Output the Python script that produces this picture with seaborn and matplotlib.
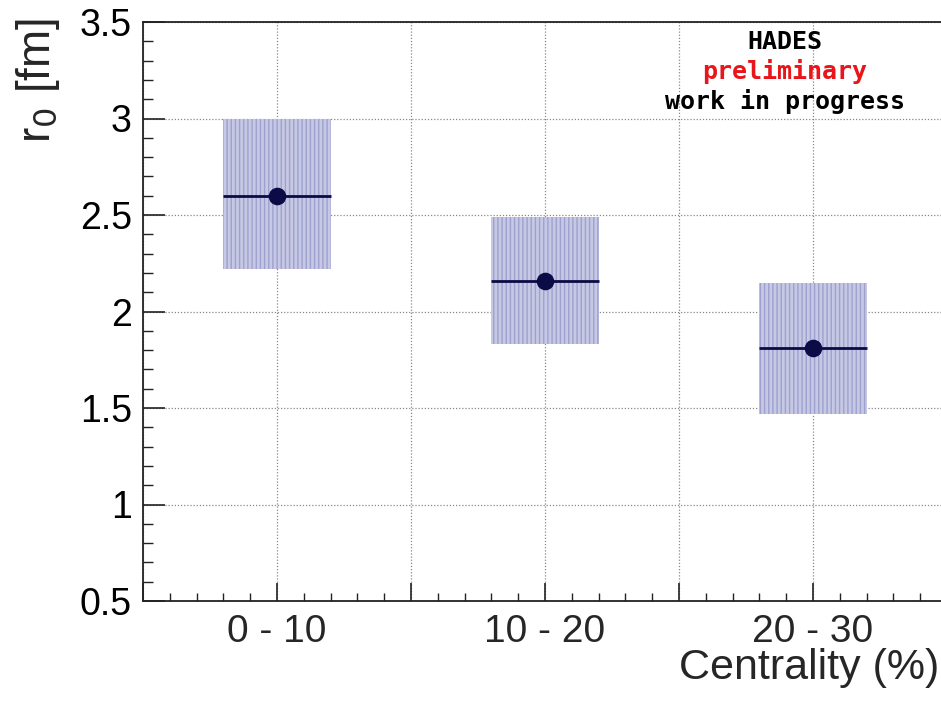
import matplotlib
matplotlib.use("Agg")
import matplotlib.pyplot as plt
import matplotlib.transforms as mtransforms
from matplotlib.patches import Rectangle
from matplotlib.ticker import MultipleLocator
import seaborn as sns
import pandas as pd

categories = ["0 - 10", "10 - 20", "20 - 30"]
centers = [5, 15, 25]
r0 = [2.60, 2.16, 1.81]
sys_low = [2.22, 1.83, 1.47]
sys_high = [3.00, 2.49, 2.15]
x_err = [2, 2, 2]

sns.set_theme(style="ticks")
plt.rcParams['font.family'] = ['Liberation Sans', 'DejaVu Sans']
plt.rcParams['hatch.linewidth'] = 1.0

fig = plt.figure(figsize=(9.41, 7.01), dpi=100)
ax = fig.add_axes([143/941, 100/701, (947-143)/941, (679-100)/701])

navy = "#0b0b45"
# systematic boxes
for c, lo, hi, xe in zip(centers, sys_low, sys_high, x_err):
    ax.add_patch(Rectangle((c - xe, lo), 2 * xe, hi - lo, facecolor="#c6c8e4",
                           edgecolor="#9ea1cf", hatch="||||", linewidth=0, zorder=2))

ax.errorbar(centers, r0, xerr=x_err, fmt="none", ecolor=navy, elinewidth=2,
            capsize=0, zorder=3)
df = pd.DataFrame({"x": centers, "r0": r0, "cat": categories})
sns.scatterplot(data=df, x="x", y="r0", ax=ax, color=navy, s=160,
                edgecolor=navy, linewidth=0, zorder=4, legend=False)

ax.set_xlim(0, 30)
ax.set_ylim(0.5, 3.5)
ax.xaxis.set_major_locator(MultipleLocator(5))
ax.xaxis.set_minor_locator(MultipleLocator(1))
ax.set_yticks([0.5, 1, 1.5, 2, 2.5, 3, 3.5])
ax.set_yticklabels(["0.5", "1", "1.5", "2", "2.5", "3", "3.5"])
ax.yaxis.set_minor_locator(MultipleLocator(0.1))
ax.tick_params(axis="y", which="major", direction="in", length=16, width=1.2,
               labelsize=27, pad=8, color="#222222", labelcolor="black",
               left=True, right=False)
ax.tick_params(axis="y", which="minor", direction="in", length=7, width=1.0,
               color="#222222", left=True, right=False)
ax.tick_params(axis="x", which="major", direction="in", length=13, width=1.2,
               color="#222222", labelbottom=False, bottom=True, top=False)
ax.tick_params(axis="x", which="minor", direction="in", length=6, width=1.0,
               color="#222222", bottom=True, top=False)

lab_tr = mtransforms.blended_transform_factory(ax.transData, fig.transFigure)
for c, lab in zip(centers, categories):
    ax.text(c, 1 - 642/701, lab, transform=lab_tr,
            ha="center", va="baseline", fontsize=28)

ax.grid(True, which="major", linestyle=(0, (1, 1.5)), color="#888888", linewidth=0.9)
ax.set_axisbelow(True)
for s in ["left", "bottom", "top"]:
    ax.spines[s].set_visible(True)
    ax.spines[s].set_color("#222222")
    ax.spines[s].set_linewidth(1.3)
ax.spines["right"].set_visible(False)

ax.set_xlabel("")
ax.set_ylabel("")
fig.text(939/941, 1 - 679/701, "Centrality (%)", ha="right", va="baseline", fontsize=31)
fig.text(38/941, 1 - 18/701, r"r$_0$ [fm]", ha="center", va="top", rotation=90,
         fontsize=33)

mono = ['DejaVu Sans Mono']
fig.text(785/941, 1 - 42/701, "HADES", ha="center", va="center", fontsize=18,
         fontweight="bold", family=mono, color="black")
fig.text(785/941, 1 - 71/701, "preliminary", ha="center", va="center", fontsize=18,
         fontweight="bold", family=mono, color="#e8151b")
fig.text(785/941, 1 - 101/701, "work in progress", ha="center", va="center",
         fontsize=18, fontweight="bold", family=mono, color="black")

fig.savefig("out.png", dpi=100)
